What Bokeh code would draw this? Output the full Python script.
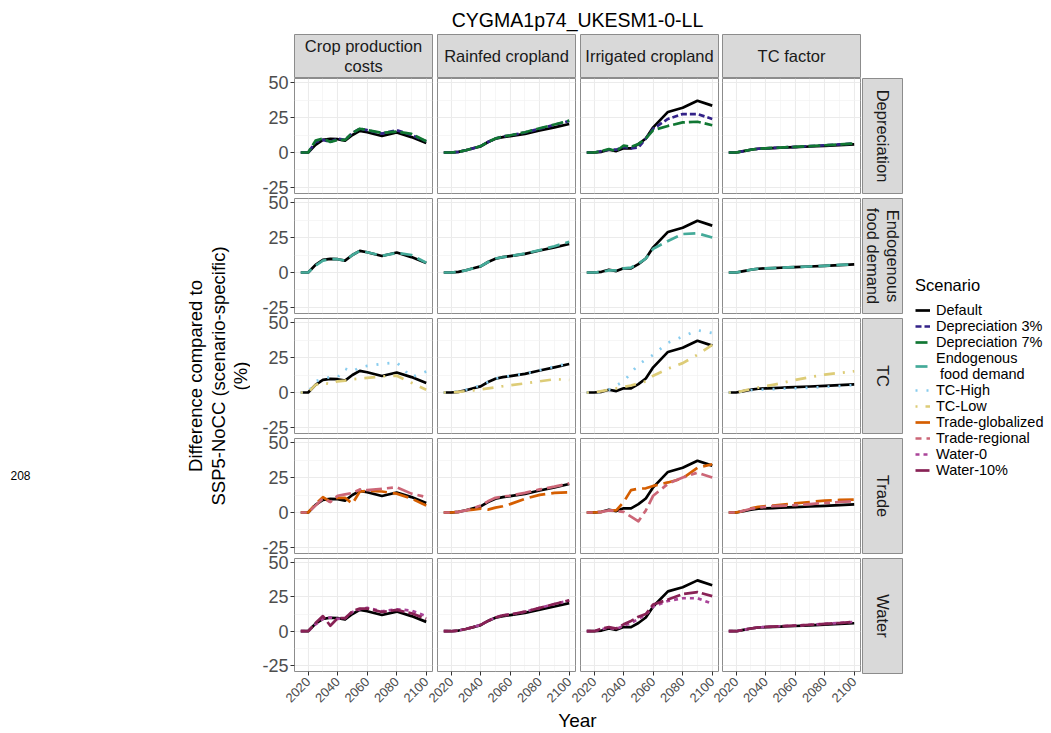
from math import pi
from bokeh.plotting import figure
from bokeh.models import Range1d, LinearAxis, FixedTicker, Grid, Label, Legend, LegendItem, Spacer
from bokeh.layouts import row, column
from bokeh.embed import file_html
from bokeh.resources import INLINE

FONT = "Liberation Sans"

# ---------------- data ----------------
years = [2015, 2020, 2025, 2030, 2035, 2040, 2045, 2050, 2055, 2060, 2070, 2080, 2090, 2100]

col_keys = ["crop", "rainfed", "irrigated", "tc"]
col_labels = ["Crop production\ncosts", "Rainfed cropland", "Irrigated cropland", "TC factor"]
row_labels = ["Depreciation", "Endogenous\nfood demand", "TC", "Trade", "Water"]

scenario_labels = ["Default", "Depreciation 3%", "Depreciation 7%", "Endogenous\n food demand",
                   "TC-High", "TC-Low", "Trade-globalized", "Trade-regional", "Water-0", "Water-10%"]

row_scenarios = [
    ["Default", "Depreciation 3%", "Depreciation 7%"],
    ["Default", "Endogenous\n food demand"],
    ["Default", "TC-High", "TC-Low"],
    ["Default", "Trade-globalized", "Trade-regional"],
    ["Default", "Water-0", "Water-10%"],
]

x_ticks = [2020, 2040, 2060, 2080, 2100]
x_minor = [2030, 2050, 2070, 2090]
y_ticks = [-25, 0, 25, 50]
y_tick_labels = {-25: "-25", 0: "0", 25: "25", 50: "50"}
y_minor = [-12.5, 12.5, 37.5]

default_vals = {
    "crop":      [0, 0, 5.5, 9, 9.8, 9.5, 8.5, 12.5, 15.5, 14.5, 11.8, 14.3, 11, 6.8],
    "rainfed":   [0, 0, 0.5, 1.6, 3, 4.4, 7.5, 9.8, 11, 11.7, 13.3, 15.7, 18, 20.4],
    "irrigated": [0, 0, 0.5, 2, 1, 3, 3, 6, 10, 18, 29, 32, 37, 33.5],
    "tc":        [0, 0, 1, 2, 2.7, 3, 3.2, 3.4, 3.6, 3.8, 4.3, 4.8, 5.3, 5.8],
}
dep3_vals = {
    "crop":      [0, 0, 7.5, 9, 7.5, 10, 9, 14, 17, 16, 13.5, 16, 12.5, 8],
    "rainfed":   [0, 0, 0.5, 1.6, 3, 4.6, 7.5, 10, 11.5, 12.2, 14.3, 17, 19.8, 22.5],
    "irrigated": [0, 0, 1, 2, 2, 4, 3, 3.5, 10, 17, 24, 27.5, 27.5, 24],
    "tc":        [0, 0, 1, 2, 2.7, 3, 3.3, 3.5, 3.8, 4, 4.6, 5.2, 5.8, 6.4],
}
dep7_vals = {
    "crop":      [0, 0, 8.5, 10, 7.5, 9, 9, 14, 17, 16, 14, 15, 13.3, 8],
    "rainfed":   [0, 0, 0.5, 1.6, 3, 4.6, 7.5, 10, 11.5, 12.3, 14.5, 17.3, 20, 22.8],
    "irrigated": [0, 0, 1, 2.5, 1, 5, 4, 6, 10, 16, 19, 21.5, 22, 19.5],
    "tc":        [0, 0, 1, 2, 2.7, 3, 3.3, 3.5, 3.8, 4, 4.6, 5.2, 5.8, 6.5],
}
endog_vals = {
    "crop":      [0, 0, 5, 8.5, 9.5, 9.5, 8.5, 12.5, 15.5, 14.5, 12, 14, 12.5, 7],
    "rainfed":   [0, 0, 0.5, 1.5, 3, 4.5, 7.5, 10, 11, 11.8, 13.5, 16, 18.8, 22],
    "irrigated": [0, 0, 0.5, 1.5, 1.5, 3, 3.5, 6.5, 10, 17, 22.5, 27.5, 28, 25],
    "tc":        [0, 0, 1, 2, 2.7, 3, 3.2, 3.4, 3.6, 3.8, 4.3, 4.8, 5.4, 5.9],
}
tc_high_vals = {
    "crop":      [0, 0, 8, 10, 11, 11, 17, 15, 18, 19, 20.5, 21.5, 11, 15],
    "rainfed":   [0, 0, 1, 2, 3.5, 5, 7.5, 10, 11, 11.8, 13.5, 16, 18.5, 21],
    "irrigated": [0, 0, 0.5, 2, 5, 8, 14, 20, 23.5, 27, 35.5, 40, 44.5, 42.5],
    "tc":        [0, 0, 0.8, 1.7, 2, 2.2, 2.4, 2.6, 2.8, 3, 3.4, 4, 4.6, 5.3],
}
tc_low_vals = {
    "crop":      [0, 0, 5.5, 7, 6, 8, 8.5, 9.5, 10, 10.5, 11.5, 12, 7, 2],
    "rainfed":   [0, 0, 0.5, 1, 1.5, 2.2, 3, 3.7, 4.5, 5.2, 6.5, 8, 9.5, 9],
    "irrigated": [0, 0, 1, 2, 3, 4, 5, 6.5, 8, 12, 17, 21, 27, 34],
    "tc":        [0, 0, 1.3, 2.5, 3.5, 4.5, 5.5, 6.5, 7.8, 9, 11, 12.8, 14, 15.2],
}
trade_glob_vals = {
    "crop":      [0, 0, 6, 11, 7.7, 10.5, 10.5, 6.3, 15, 15.5, 15, 13.5, 10, 5],
    "rainfed":   [0, 0, 0.5, 1.5, 2, 2.8, 2.1, 3.5, 4.5, 6, 9.8, 12.6, 14, 14.5],
    "irrigated": [0, 0, 0.5, 1.5, 1.5, 7.5, 16, 17, 17.3, 19, 21.5, 24.4, 32, 34.5],
    "tc":        [0, 0, 1.3, 3, 4, 4.5, 5, 5.5, 6, 6.5, 7.5, 8.5, 9, 9.2],
}
trade_reg_vals = {
    "crop":      [0, 0, 5, 10, 7.5, 12, 13, 14, 16.5, 16, 17, 18, 13.5, 11],
    "rainfed":   [0, 0, 0.5, 1.5, 3.2, 5, 8, 10.5, 11.5, 12, 14, 16.5, 18.5, 20.8],
    "irrigated": [0, 0, 0.5, 1.5, 1, 0.5, -3, -6.3, 1.5, 12, 20.5, 25, 28.5, 25],
    "tc":        [0, 0, 1.3, 2.7, 3.5, 4, 4.5, 4.8, 5, 5.3, 6, 6.8, 7.5, 8],
}
water0_vals = {
    "crop":      [0, 0, 5, 9, 10, 9, 9.5, 14, 16, 17, 14.5, 16, 15, 11],
    "rainfed":   [0, 0, 0.5, 1.6, 3, 4.6, 7.5, 10, 11.5, 12.2, 14.2, 17, 19.8, 22.3],
    "irrigated": [0, 0, 1.5, 2.5, 1.5, 4, 6, 9, 12, 18, 22, 24, 24, 20],
    "tc":        [0, 0, 1, 2, 2.8, 3.1, 3.4, 3.6, 3.9, 4.1, 4.7, 5.3, 6, 6.8],
}
water10_vals = {
    "crop":      [0, 0, 6, 11, 4, 9.5, 9.5, 14.5, 16.5, 16.5, 14, 15.5, 13, 9],
    "rainfed":   [0, 0, 0.5, 1.6, 3, 4.6, 7.5, 10, 11.5, 12.2, 14.2, 17, 19.8, 22.5],
    "irrigated": [0, 0, 2, 3, 2, 5, 7.5, 10.5, 12.5, 19.5, 23, 27, 28.5, 25.5],
    "tc":        [0, 0, 1, 2, 2.8, 3.1, 3.4, 3.6, 3.9, 4.1, 4.7, 5.3, 6, 6.9],
}

values = {
    "Default": default_vals, "Depreciation 3%": dep3_vals, "Depreciation 7%": dep7_vals,
    "Endogenous\n food demand": endog_vals, "TC-High": tc_high_vals, "TC-Low": tc_low_vals,
    "Trade-globalized": trade_glob_vals, "Trade-regional": trade_reg_vals,
    "Water-0": water0_vals, "Water-10%": water10_vals,
}

# ---------------- styles ----------------
colors = {
    "Default": "#000000", "Depreciation 3%": "#332288", "Depreciation 7%": "#117733",
    "Endogenous\n food demand": "#44AA99", "TC-High": "#88CCEE", "TC-Low": "#DDCC77",
    "Trade-globalized": "#D55E00", "Trade-regional": "#CC6677", "Water-0": "#AA4499",
    "Water-10%": "#882255",
}
dashes = {
    "Default": "solid", "Depreciation 3%": "6 3", "Depreciation 7%": "12 4",
    "Endogenous\n food demand": "12 6", "TC-High": "2 9", "TC-Low": "2 8 11 8",
    "Trade-globalized": "16 6", "Trade-regional": "6 5 16 5", "Water-0": "4 4",
    "Water-10%": "14 4",
}
LW = 2.7
FRAME_W, FRAME_H = 138, 115
LEFT_AXIS = 44
BOTTOM_AXIS = 36
RIGHT_GAPS = [5, 5, 4, 2]
EXT = 9          # extra transparent canvas above/below panels so tick labels are not clipped
EXT_X = 20       # extra transparent canvas left of columns 2-4 (rotated year labels)
BORDER = "#8C8C8C"
STRIP_FILL = "#D9D9D9"
TOTAL_H = 34 + 44 + 4 * (FRAME_H + 5) + FRAME_H + BOTTOM_AXIS + 22


def base_fig(w, h, xr, yr, **kw):
    opts = dict(width=w, height=h, x_range=xr, y_range=yr, x_axis_type=None, y_axis_type=None,
                toolbar_location=None, output_backend="svg", min_border_left=0, min_border_right=0,
                min_border_top=0, min_border_bottom=0, outline_line_color=None)
    opts.update(kw)
    return figure(**opts)


def make_panel(r, c):
    left = LEFT_AXIS if c == 0 else EXT_X
    right = RIGHT_GAPS[c]
    top = EXT
    if r < 4:
        bottom = 5 + EXT
        mb = -EXT
    else:
        bottom = BOTTOM_AXIS
        mb = 0
    ml = 0 if c == 0 else -EXT_X
    p = base_fig(left + FRAME_W + right, top + FRAME_H + bottom,
                 Range1d(2010.75, 2104.25), Range1d(-29.3, 52.9),
                 min_border_left=left, min_border_right=right, min_border_bottom=bottom,
                 min_border_top=top, margin=(-EXT, 0, mb, ml),
                 border_fill_alpha=0, background_fill_color="#FFFFFF",
                 outline_line_color=BORDER, outline_line_width=1)
    p.add_layout(Grid(dimension=0, ticker=FixedTicker(ticks=x_ticks, minor_ticks=x_minor),
                      grid_line_color="#EBEBEB", grid_line_width=1.1,
                      minor_grid_line_color="#F2F2F2", minor_grid_line_width=0.7))
    p.add_layout(Grid(dimension=1, ticker=FixedTicker(ticks=y_ticks, minor_ticks=y_minor),
                      grid_line_color="#EBEBEB", grid_line_width=1.1,
                      minor_grid_line_color="#F2F2F2", minor_grid_line_width=0.7))
    if c == 0:
        ya = LinearAxis(ticker=FixedTicker(ticks=y_ticks), axis_line_color=None,
                        major_tick_line_color="#333333", major_tick_out=4, major_tick_in=0,
                        minor_tick_line_color=None, major_label_standoff=2,
                        major_label_overrides=y_tick_labels,
                        major_label_text_font=FONT, major_label_text_font_size="18px",
                        major_label_text_color="#4D4D4D")
        p.add_layout(ya, "left")
    if r == 4:
        xa = LinearAxis(ticker=FixedTicker(ticks=x_ticks), axis_line_color=None,
                        major_tick_line_color="#333333", major_tick_out=4, major_tick_in=0,
                        minor_tick_line_color=None, major_label_standoff=4,
                        major_label_orientation=pi / 4,
                        major_label_text_font=FONT, major_label_text_font_size="13px",
                        major_label_text_color="#4D4D4D")
        p.add_layout(xa, "below")
    key = col_keys[c]
    for s in row_scenarios[r]:
        p.line(years, values[s][key], line_color=colors[s], line_width=LW,
               line_dash=dashes[s], line_join="round")
    return p


def top_strip(c):
    left = LEFT_AXIS if c == 0 else 0
    right = RIGHT_GAPS[c]
    p = base_fig(left + FRAME_W + right, 44, Range1d(0, 1), Range1d(0, 1),
                 min_border_left=left, min_border_right=right, min_border_bottom=1,
                 background_fill_color=STRIP_FILL, outline_line_color=BORDER,
                 border_fill_alpha=0)
    p.add_layout(Label(x=0.5, y=0.5, text=col_labels[c], text_align="center",
                       text_baseline="middle", text_font=FONT, text_font_size="16.5px",
                       text_color="#1A1A1A", text_line_height=1.1))
    return p


def right_strip(r):
    p = base_fig(41, FRAME_H + 5, Range1d(0, 1), Range1d(0, 1), min_border_bottom=5,
                 background_fill_color=STRIP_FILL, outline_line_color=BORDER)
    p.add_layout(Label(x=0.5, y=0.5, text=row_labels[r], text_align="center",
                       text_baseline="middle", angle=-pi / 2, text_font=FONT,
                       text_font_size="16.5px", text_color="#1A1A1A", text_line_height=1.1))
    return p


# ---------------- left: y-axis title and stray label ----------------
left_fig = base_fig(250, TOTAL_H, Range1d(0, 250), Range1d(TOTAL_H, 0))
ylab_lines = ["Difference compared to", "SSP5-NoCC (scenario-specific)", "(%)"]
for xx, t in zip([195, 218, 240], ylab_lines):
    left_fig.add_layout(Label(x=xx, y=375.5, text=t, angle=pi / 2, text_align="center",
                              text_baseline="middle", text_font=FONT, text_font_size="18.5px",
                              text_color="#000000"))
left_fig.add_layout(Label(x=10, y=475, text="208", text_align="left", text_baseline="middle",
                          text_font=FONT, text_font_size="12px", text_color="#000000"))

# ---------------- title / year ----------------
CENTER_W = sum(LEFT_AXIS * (c == 0) + FRAME_W + RIGHT_GAPS[c] for c in range(4))
title_fig = base_fig(CENTER_W, 34, Range1d(0, CENTER_W), Range1d(34, 0))
title_fig.add_layout(Label(x=327, y=19, text="CYGMA1p74_UKESM1-0-LL", text_align="center",
                           text_baseline="middle", text_font=FONT, text_font_size="19.5px",
                           text_color="#000000"))
year_fig = base_fig(CENTER_W, 22, Range1d(0, CENTER_W), Range1d(22, 0))
year_fig.add_layout(Label(x=327, y=10.5, text="Year", text_align="center",
                          text_baseline="middle", text_font=FONT, text_font_size="19px",
                          text_color="#000000"))

# ---------------- legend ----------------
nan = float("nan")
legend_fig = base_fig(146, TOTAL_H, Range1d(0, 1), Range1d(0, 1))
items = []
for s in scenario_labels:
    rr = legend_fig.line([nan, nan], [nan, nan], line_color=colors[s], line_width=LW,
                         line_dash=dashes[s])
    items.append(LegendItem(label=s, renderers=[rr]))
leg = Legend(items=items, location=(12, TOTAL_H - 478), title="Scenario",
             title_text_font=FONT, title_text_font_size="16.5px", title_text_font_style="normal",
             title_text_color="#000000", title_standoff=7,
             label_text_font=FONT, label_text_font_size="14.5px", label_text_color="#000000",
             label_text_line_height=1.05, label_height=14, label_standoff=6,
             glyph_width=15, glyph_height=14, spacing=0, padding=0, margin=0,
             border_line_color=None, background_fill_alpha=0)
legend_fig.add_layout(leg)

# ---------------- assemble ----------------
strip_row = row(*[top_strip(c) for c in range(4)])
panel_rows = [row(*[make_panel(r, c) for c in range(4)]) for r in range(5)]
center = column(title_fig, strip_row, *panel_rows, year_fig)
right_col = column(Spacer(width=41, height=78), *[right_strip(r) for r in range(5)],
                   Spacer(width=41, height=TOTAL_H - 78 - 5 * (FRAME_H + 5)))
layout = row(left_fig, center, right_col, legend_fig)

open("out.html", "w").write(file_html(layout, INLINE))
